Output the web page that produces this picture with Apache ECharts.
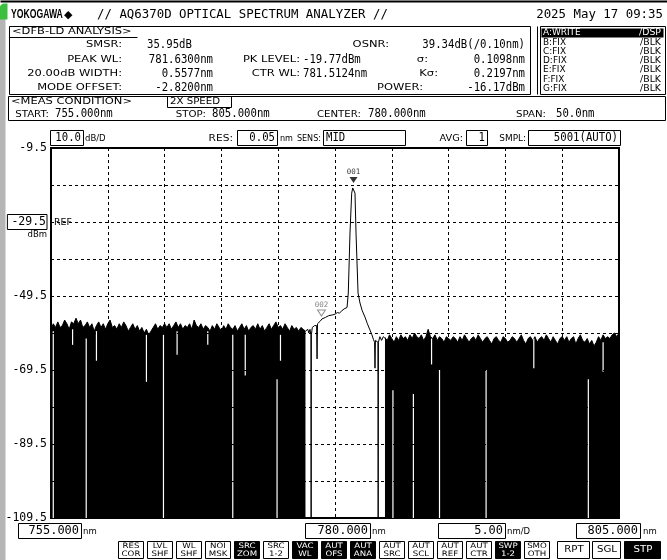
<!DOCTYPE html>
<html>
<head>
<meta charset="utf-8">
<script src="https://cdn.jsdelivr.net/npm/echarts@6/dist/echarts.min.js"></script>
<style>
html, body { margin: 0; padding: 0; background: #fff; }
#chart { width: 667px; height: 560px; }
</style>
</head>
<body>
<div id="chart"></div>
<script>
// axis ranges (nm / dBm)
const wlStart = 755
const wlStop = 805
const wlStep = 5
const levelTop = -9.5
const levelBottom = -109.5
const levelLabels = [-109.5, -89.5, -69.5, -49.5, -29.5, -9.5]
const gridLevels = [-99.5, -89.5, -79.5, -69.5, -59.5, -49.5, -39.5, -29.5, -19.5]

// noise floor left of the laser, 755.0 .. 777.4 nm every 0.2 nm
const noiseLeftStart = 755.0
const noiseLeft = [
  -58.5, -57, -58, -56.5, -58, -57.5, -56, -57, -58.5, -56.5, -57,
  -55.5, -57, -56, -58, -57.5, -56.5, -58, -57, -59, -57.5,
  -56.5, -58, -57, -58.5, -57, -56, -58, -57.5, -58.5, -57,
  -58, -56.5, -57.5, -59, -58, -57, -58.5, -57.5, -59, -58,
  -59.5, -58.5, -60, -59, -58, -57, -58.5, -57.5, -58, -57,
  -58, -57, -58.5, -57.5, -56.5, -58, -57, -58.5, -57.5, -58,
  -57, -58.5, -56, -57.5, -58, -57, -58.5, -57.5, -58, -59,
  -57.5, -58.5, -57, -58, -59, -57.5, -58.5, -57, -58, -58.5,
  -57.5, -59, -58, -57, -58.5, -57.5, -59, -58, -57.5, -58.5,
  -57, -58.5, -57.5, -59, -58, -57, -58.5, -57.5, -56.5, -58,
  -57.5, -58.5, -57, -58, -59, -57.5, -58.5, -58, -59, -58, -58.5, -59
]
// noise floor right of the laser, 784.4 .. 805.0 nm every 0.2 nm
const noiseRightStart = 784.4
const noiseRight = [
  -60.5, -61.5, -60, -61, -62, -60.5, -61.5, -60, -61,
  -60.5, -61.5, -60, -61, -59.5, -60.5, -61, -60, -61.5, -60.5,
  -58.5, -60.5, -61, -60, -61.5, -60.5, -61, -62, -60.5, -61,
  -61.5, -60.5, -61, -62, -60.5, -61.5, -60, -61, -62, -61,
  -60.5, -61.5, -60, -61, -62, -61, -60.5, -61.5, -62.5, -61,
  -60.5, -61.5, -62, -60.5, -61, -62, -61.5, -60.5, -61, -62,
  -61, -60, -61.5, -62.5, -61, -60.5, -61.5, -60.5, -62, -61,
  -60.5, -61.5, -60, -61, -62, -60.5, -61.5, -62.5, -61, -60.5,
  -61.5, -60.5, -62, -61, -60.5, -62.5, -61, -60, -61.5, -62,
  -61, -62.5, -61.5, -63, -62, -60.5, -61.5, -60, -61, -60.5,
  -61, -60, -59.5, -60.5, -59.5
]
const noiseStep = 0.2

// laser line with its side mode shoulder, [nm, dBm]
const linePoints = [
  [777.5, -59], [777.6, -58.5], [777.7, -59.5], [777.8, -58.5], [777.88, -60], [777.9, -109.5], [777.92, -60],
  [778.0, -58], [778.1, -58.5], [778.2, -57.5], [778.3, -58], [778.38, -57.5], [778.42, -66.5], [778.46, -57],
  [778.55, -56.8], [778.7, -56.3], [778.85, -55.7], [779.0, -56], [779.15, -55.3], [779.3, -55.5], [779.45, -54.8],
  [779.6, -55], [779.8, -54.6], [780.0, -54.4], [780.2, -54], [780.4, -54.1], [780.6, -53.5], [780.8, -53],
  [780.95, -53.2], [781.06, -52.6], [781.17, -48.7], [781.32, -32.5], [781.47, -21.7], [781.56, -20.3],
  [781.63, -19.77], [781.69, -20.4], [781.76, -21.7], [781.85, -32.5], [782.03, -48.7], [782.2, -51.4],
  [782.4, -53.5], [782.64, -55.2], [782.85, -57], [783.08, -58.7], [783.25, -60], [783.38, -61.2], [783.48, -62],
  [783.52, -69], [783.56, -61.5], [783.7, -61], [783.78, -62], [783.8, -109.5], [783.82, -62], [783.95, -60.5],
  [784.1, -61.5], [784.25, -60.5]
]

// columns where the trace does not reach down, [nm, from dBm, to dBm]
const gaps = [
  [755.2, -59, -109.5], [756.9, -58.5, -62.7], [758.1, -61, -109.5], [759.0, -59, -67],
  [763.4, -60, -72.7], [764.9, -60, -109.5], [766.1, -59, -65.4], [768.8, -59, -62.7],
  [771.0, -60, -109.5], [772.1, -60, -71], [774.9, -72, -109.5], [775.2, -60, -67],
  [785.1, -75, -109.5], [786.9, -76, -109.5], [788.5, -61, -68], [789.2, -69.5, -109.5],
  [793.3, -69.5, -109.5], [797.5, -61, -69], [802.3, -72, -109.5], [803.6, -62, -70]
]

// analysis markers: peak and side mode
const markers = [[781.63, -19.77, '001'], [778.81, -55.72, '002']]

const toPairs = (start, vals) => vals.map((v, i) => [+(start + i * noiseStep).toFixed(2), v])
const leftPairs = toPairs(noiseLeftStart, noiseLeft)
const rightPairs = toPairs(noiseRightStart, noiseRight)
const tracePairs = leftPairs.concat(linePoints, rightPairs)
const fillPairs = leftPairs.concat([[780, null]], rightPairs)

const MONO = '"DejaVu Sans Mono", monospace'
const SANS = '"DejaVu Sans", sans-serif'

function text(x, y, s, o) {
  o = o || {}
  return {
    type: 'text', x: x, y: y, scaleX: o.sx || 1, originX: 0, originY: 0, z: 20,
    style: {
      text: s, x: 0, y: 0,
      font: o.font || ('11px ' + MONO),
      fill: o.fill || '#000',
      align: o.align || 'left', textAlign: o.align || 'left',
      verticalAlign: 'middle', textVerticalAlign: 'middle'
    }
  }
}
// instrument label font: small, wide capitals
const lab = (x, y, s, align, fill, sx) => text(x, y, s, { font: '8.5px ' + SANS, sx: sx || 1.35, align: align || 'right', fill: fill })
// instrument value font: tall narrow digits
const val = (x, y, s, align, fill) => text(x, y, s, { font: '13px ' + MONO, sx: 0.82, align: align || 'left', fill: fill })

function rect(x, y, w, h, o) {
  o = o || {}
  return {
    type: 'rect', z: o.z || 18,
    shape: { x: x + 0.5, y: y + 0.5, width: w, height: h, r: o.r || 0 },
    style: { fill: o.fill || 'none', stroke: o.stroke === undefined ? '#000' : o.stroke, lineWidth: o.lw || 1 }
  }
}
function seg(x1, y1, x2, y2) {
  return { type: 'line', z: 18, shape: { x1: x1 + 0.5, y1: y1 + 0.5, x2: x2 + 0.5, y2: y2 + 0.5 }, style: { stroke: '#000', lineWidth: 1 } }
}

const g = []
// frame of the screen
g.push(rect(0, 0, 667, 2, { fill: '#000', stroke: null, z: 5 }))
g.push(rect(-1, 18, 6, 545, { fill: '#b5b5b5', stroke: null, z: 5 }))
g.push(rect(-1, 3, 8, 16, { fill: '#3cbf3c', stroke: null, r: [5, 0, 0, 0], z: 5 }))

// title line
g.push(text(11, 15, 'YOKOGAWA', { font: 'bold 12px "Liberation Sans", sans-serif', sx: 0.72 }))
g.push(text(64, 15, '◆', { font: '11px ' + SANS }))
g.push(text(97, 15, '// AQ6370D OPTICAL SPECTRUM ANALYZER //', { font: '12.4px ' + MONO }))
g.push(text(663, 15, '2025 May 17 09:35', { font: '12.4px ' + MONO, align: 'right' }))

// DFB-LD analysis box
g.push(rect(9, 26, 521, 68))
g.push(seg(9, 37, 137, 37))
g.push(lab(12, 31.5, '<DFB-LD ANALYSIS>', 'left'))
const r1 = 45, r2 = 59.5, r3 = 74, r4 = 88
g.push(lab(122, r1, 'SMSR:'), lab(122, r2, 'PEAK WL:'), lab(122, r3, '20.00dB WIDTH:'), lab(122, r4, 'MODE OFFSET:'))
g.push(val(147, r1, '35.95dB'), val(213, r2, '781.6300nm', 'right'), val(213, r3, '0.5577nm', 'right'), val(213, r4, '-2.8200nm', 'right'))
g.push(lab(300, r2, 'PK LEVEL:'), val(303, r2, '-19.77dBm'))
g.push(lab(300, r3, 'CTR WL:'), val(303, r3, '781.5124nm'))
g.push(lab(389, r1, 'OSNR:'), val(525, r1, '39.34dB(/0.10nm)', 'right'))
g.push(lab(428, r2, 'σ:'), val(525, r2, '0.1098nm', 'right'))
g.push(lab(438, r3, 'Kσ:'), val(525, r3, '0.2197nm', 'right'))
g.push(lab(423, r4, 'POWER:'), val(525, r4, '-16.17dBm', 'right'))

// trace list
g.push(seg(537, 26, 537, 94))
g.push(rect(540, 26, 125, 68))
g.push(rect(541, 28, 122, 9, { fill: '#000', stroke: null }))
const traces = [['A:WRITE', '/DSP'], ['B:FIX', '/BLK'], ['C:FIX', '/BLK'], ['D:FIX', '/BLK'], ['E:FIX', '/BLK'], ['F:FIX', '/BLK'], ['G:FIX', '/BLK']]
traces.forEach((t, i) => {
  const y = 33 + i * 9.3
  const c = i === 0 ? '#fff' : '#000'
  g.push(lab(543, y, t[0], 'left', c, 1.05), lab(661, y, t[1], 'right', c, 1.1))
})

// measurement condition
g.push(rect(8, 96, 657, 24))
g.push(lab(11, 102, '<MEAS CONDITION>', 'left'))
g.push(rect(167, 96, 64, 11), lab(170, 102, '2X SPEED', 'left', null, 1.2))
g.push(lab(49, 115, 'START:', 'right', null, 1.2), val(55, 114, '755.000nm'))
g.push(lab(206, 115, 'STOP:', 'right', null, 1.2), val(212, 114, '805.000nm'))
g.push(lab(361, 115, 'CENTER:', 'right', null, 1.2), val(368, 114, '780.000nm'))
g.push(lab(546, 115, 'SPAN:', 'right', null, 1.2), val(556, 114, '50.0nm'))

// setting row above the plot
const sy = 137.5
g.push(rect(50, 130, 33, 15), val(81, sy, '10.0', 'right'), lab(85, sy + 1, 'dB/D', 'left', null, 1))
g.push(lab(233, sy + 1, 'RES:', 'right', null, 1.25), rect(237, 130, 40, 15), val(275, sy, '0.05', 'right'), lab(280, sy + 1, 'nm', 'left', null, 0.95))
g.push(lab(321, sy + 1, 'SENS:', 'right', null, 0.95), rect(323, 130, 82, 15), val(326, sy, 'MID'))
g.push(lab(463, sy + 1, 'AVG:', 'right', null, 1.15), rect(466, 130, 21, 15), val(485, sy, '1', 'right'))
g.push(lab(526, sy + 1, 'SMPL:', 'right', null, 1.05), rect(528, 130, 92, 15), val(618, sy, '5001(AUTO)', 'right'))

// reference level annotations
g.push(lab(54, 222.5, 'REF', 'left', null, 1.1), lab(47, 235, 'dBm', 'right', null, 1))

// bottom scale
g.push(rect(18, 523, 63, 15), text(79, 531, '755.000', { font: '13px ' + MONO, sx: 0.92, align: 'right' }), lab(83, 532, 'nm', 'left', null, 1))
g.push(rect(305, 523, 65, 15), text(368, 531, '780.000', { font: '13px ' + MONO, sx: 0.92, align: 'right' }), lab(372, 532, 'nm', 'left', null, 1))
g.push(rect(438, 523, 67, 15), text(503, 531, '5.00', { font: '13px ' + MONO, sx: 0.92, align: 'right' }), lab(507, 532, 'nm/D', 'left', null, 1))
g.push(rect(576, 523, 64, 15), text(638, 531, '805.000', { font: '13px ' + MONO, sx: 0.92, align: 'right' }), lab(643, 532, 'nm', 'left', null, 1))

// soft keys
const keys = [['RES', 'COR', 0], ['LVL', 'SHF', 0], ['WL', 'SHF', 0], ['NOI', 'MSK', 0], ['SRC', 'ZOM', 1], ['SRC', '1-2', 0],
  ['VAC', 'WL', 1], ['AUT', 'OFS', 1], ['AUT', 'ANA', 1], ['AUT', 'SRC', 0], ['AUT', 'SCL', 0], ['AUT', 'REF', 0],
  ['AUT', 'CTR', 0], ['SWP', '1-2', 1], ['SMO', 'OTH', 0]]
keys.forEach((k, i) => {
  const x = 118 + i * 29
  const c = k[2] ? '#fff' : '#000'
  g.push(rect(x, 541, 25, 17, { fill: k[2] ? '#000' : '#fff' }))
  g.push(text(x + 13, 546, k[0], { font: '7.5px ' + SANS, sx: 1.15, align: 'center', fill: c }))
  g.push(text(x + 13, 554, k[1], { font: '7.5px ' + SANS, sx: 1.15, align: 'center', fill: c }))
})
const bigKeys = [['RPT', 557, 32, 0], ['SGL', 592, 28, 0], ['STP', 624, 36, 1]]
bigKeys.forEach(k => {
  g.push(rect(k[1], 541, k[2], 17, { fill: k[3] ? '#000' : '#fff' }))
  g.push(text(k[1] + k[2] / 2 + 1, 550, k[0], { font: '8.5px ' + SANS, sx: 1.2, align: 'center', fill: k[3] ? '#fff' : '#000' }))
})

const chart = echarts.init(document.getElementById('chart'))
chart.setOption({
  animation: false,
  backgroundColor: '#fff',
  grid: { left: 51, top: 148, width: 568, height: 370, show: true, borderColor: '#000', borderWidth: 2, backgroundColor: 'transparent' },
  xAxis: {
    type: 'value', min: wlStart, max: wlStop, interval: wlStep,
    axisLine: { show: false }, axisTick: { show: false }, axisLabel: { show: false },
    splitLine: { show: true, lineStyle: { color: '#000', width: 1, type: [3, 3] } }
  },
  yAxis: {
    type: 'value', min: levelBottom, max: levelTop,
    axisLine: { show: false }, axisTick: { show: false }, splitLine: { show: false },
    axisLabel: {
      customValues: levelLabels, margin: 4, color: '#000',
      fontFamily: 'DejaVu Sans Mono', fontSize: 11.5,
      formatter: v => v === -29.5 ? '{r|-29.5}' : String(v),
      rich: { r: { fontFamily: 'DejaVu Sans Mono', fontSize: 11.5, color: '#000', borderColor: '#000', borderWidth: 1, padding: [2, 1, 1, 4] } }
    }
  },
  graphic: g,
  series: [
    {
      type: 'line', data: fillPairs, symbol: 'none', connectNulls: false, z: 1,
      lineStyle: { width: 0 }, areaStyle: { color: '#000', opacity: 1, origin: 'start' }
    },
    {
      type: 'line', data: tracePairs, symbol: 'none', z: 2,
      lineStyle: { color: '#000', width: 1 },
      markLine: {
        silent: true, symbol: 'none', label: { show: false },
        lineStyle: { color: '#000', width: 1, type: [3, 3] },
        data: gridLevels.map(v => ({ yAxis: v }))
      }
    },
    {
      type: 'custom', data: gaps, z: 3,
      encode: { x: 0, y: [1, 2] },
      renderItem: (params, api) => {
        const a = api.coord([api.value(0), api.value(1)])
        const b = api.coord([api.value(0), api.value(2)])
        return { type: 'line', shape: { x1: a[0], y1: a[1], x2: b[0], y2: b[1] }, style: { stroke: '#fff', lineWidth: 1.2 } }
      }
    },
    {
      type: 'scatter', z: 4,
      data: markers.map((m, i) => ({
        value: [m[0], m[1]],
        itemStyle: i === 0 ? { color: '#000' } : { color: '#fff', borderColor: '#777', borderWidth: 1 },
        label: { color: i === 0 ? '#000' : '#666' }
      })),
      symbol: 'triangle', symbolRotate: 180, symbolSize: [8, 6], symbolOffset: [0, -6],
      label: { show: true, position: 'top', distance: 1, fontSize: 7.5, fontFamily: 'DejaVu Sans Mono', formatter: p => markers[p.dataIndex][2] }
    }
  ]
})
</script>
</body>
</html>
